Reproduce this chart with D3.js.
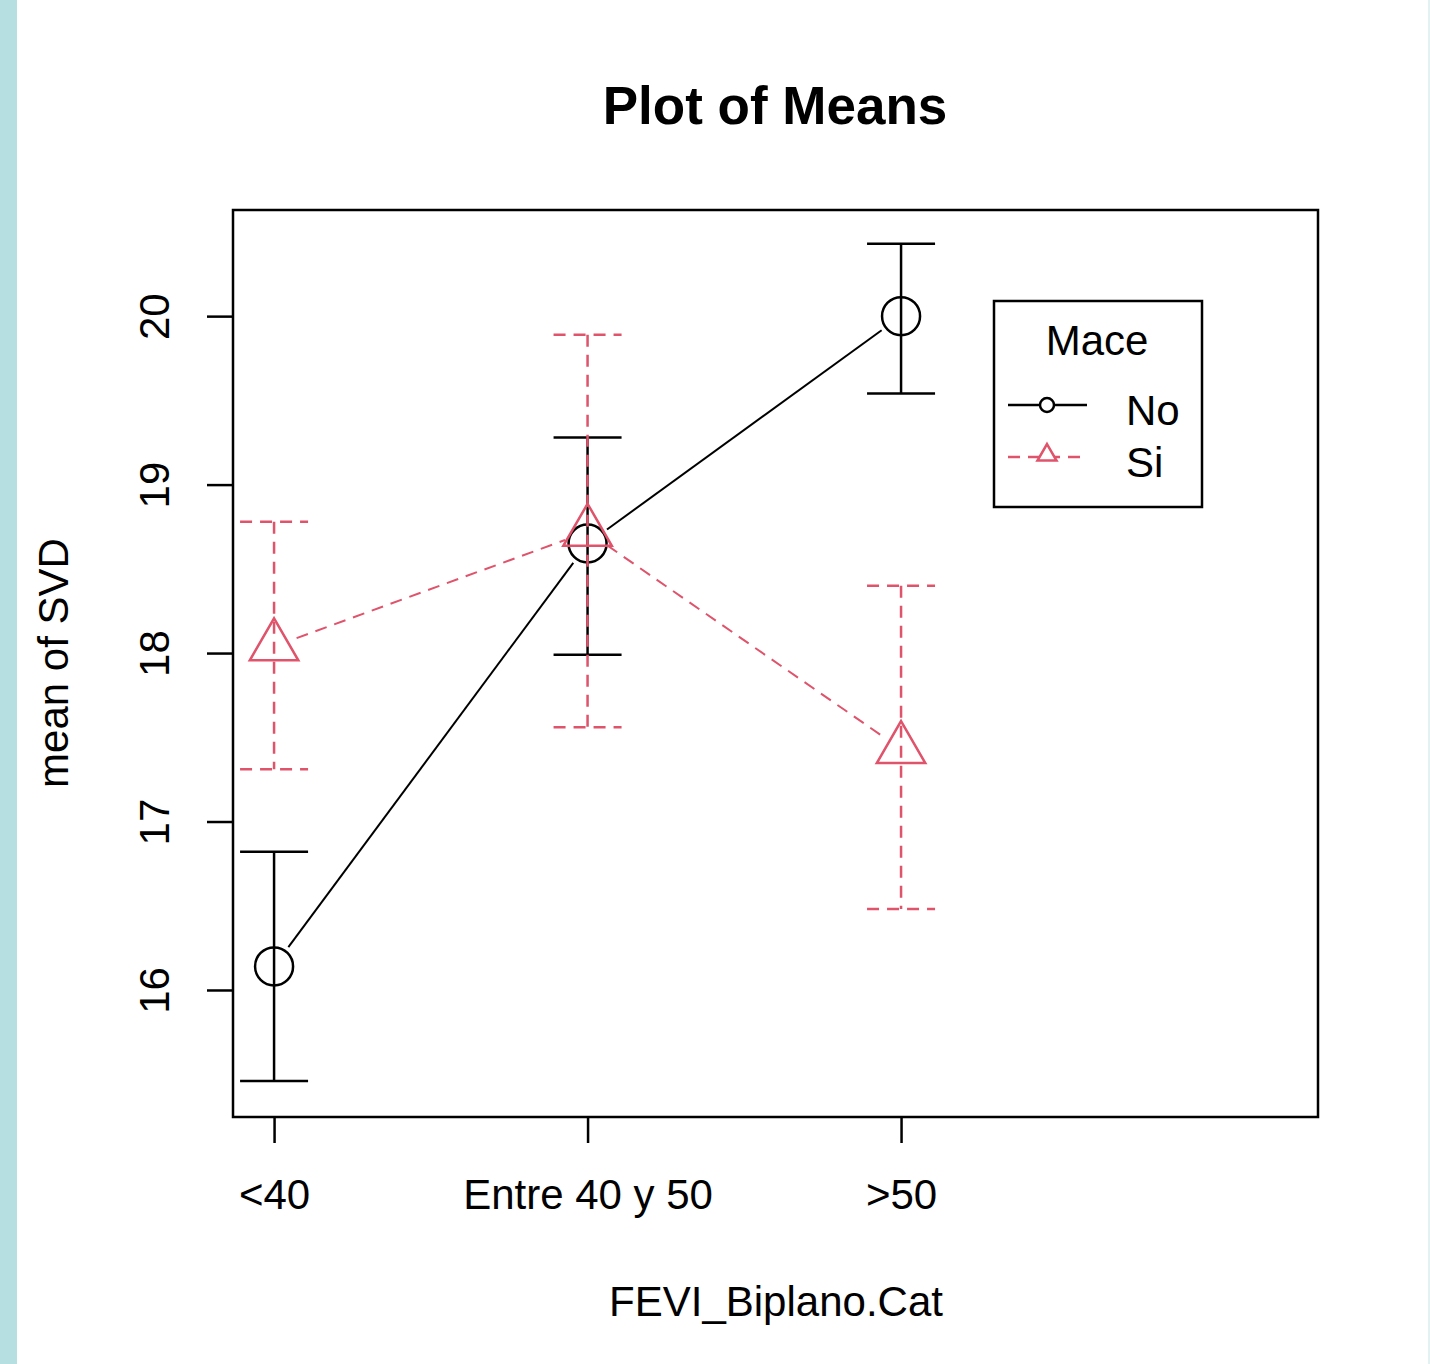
<!DOCTYPE html>
<html>
<head>
<meta charset="utf-8">
<script src="https://cdn.jsdelivr.net/npm/d3@7"></script>
<style>
  body { margin: 0; background: #fff; }
  #chart { width: 1430px; height: 1364px; }
  text { font-family: "Liberation Sans", Arial, sans-serif; fill: #000; }
</style>
</head>
<body>
<div id="chart"></div>
<script>
// categories and tick labels
var categories = ["<40", "Entre 40 y 50", ">50"];
var yTicks = [16, 17, 18, 19, 20];
var groups = ["No", "Si"];

// means and error bar limits
var meanNo = [16.14, 18.65, 20.00];
var upperNo = [16.82, 19.28, 20.43];
var lowerNo = [15.46, 17.99, 19.54];

var meanSi = [18.04, 18.72, 17.43];
var upperSi = [18.78, 19.89, 18.40];
var lowerSi = [17.31, 17.56, 16.48];

var W = 1430, H = 1364;
var box = { left: 233, right: 1318, top: 210, bottom: 1117 };

var svg = d3.select("#chart")
  .append("svg")
    .attr("width", W)
    .attr("height", H);

svg.append("rect").attr("width", W).attr("height", H).attr("fill", "#fff");
svg.append("rect").attr("x", 0).attr("y", 0).attr("width", 17).attr("height", H).attr("fill", "#b6dfe2");
svg.append("rect").attr("x", 1428).attr("y", 0).attr("width", 2).attr("height", H).attr("fill", "#e3f1f2");

var x = d3.scaleLinear()
    .domain([0.869, 4.33])
    .range([box.left, box.right]);

var y = d3.scaleLinear()
    .domain([15.246, 20.63])
    .range([box.bottom, box.top]);

var color = d3.scaleOrdinal().domain(groups).range(["#000000", "#DF536B"]);

// title
svg.append("text")
    .attr("x", 775).attr("y", 124)
    .attr("text-anchor", "middle")
    .style("font-size", "53px")
    .style("font-weight", "bold")
    .text("Plot of Means");

// axes
var xAxis = svg.append("g")
    .attr("transform", "translate(0," + box.bottom + ")")
    .call(d3.axisBottom(x)
      .tickValues([1, 2, 3])
      .tickFormat(function(d) { return categories[d - 1]; })
      .tickSize(26)
      .tickPadding(36));
xAxis.select(".domain").remove();
xAxis.selectAll("line").attr("stroke", "#000").attr("stroke-width", 2.5);
xAxis.selectAll("text")
    .attr("font-family", null).attr("font-size", null)
    .style("font-size", "42px")
    .attr("fill", "#000");

var yAxis = svg.append("g")
    .attr("transform", "translate(" + box.left + ",0)")
    .call(d3.axisLeft(y).tickValues(yTicks).tickSize(26).tickFormat(d3.format("d")));
yAxis.select(".domain").remove();
yAxis.selectAll("line").attr("stroke", "#000").attr("stroke-width", 2.5);
yAxis.selectAll("text")
    .attr("font-family", null).attr("font-size", null)
    .attr("x", 0)
    .attr("text-anchor", "middle")
    .attr("transform", "translate(-79,0) rotate(-90)")
    .attr("dy", "0.35em")
    .style("font-size", "42px")
    .attr("fill", "#000");

// axis titles
svg.append("text")
    .attr("x", 776).attr("y", 1316)
    .attr("text-anchor", "middle")
    .style("font-size", "42px")
    .text("FEVI_Biplano.Cat");

svg.append("text")
    .attr("transform", "translate(68,663) rotate(-90)")
    .attr("text-anchor", "middle")
    .style("font-size", "42px")
    .text("mean of SVD");

// plot box
svg.append("rect")
    .attr("x", box.left).attr("y", box.top)
    .attr("width", box.right - box.left).attr("height", box.bottom - box.top)
    .attr("fill", "none").attr("stroke", "#000").attr("stroke-width", 2.5);

function triPoints(cx, cy, r) {
  var xc = r * 0.866;
  return [[cx, cy - r], [cx + xc, cy + r / 2], [cx - xc, cy + r / 2]]
    .map(function(p) { return p.join(","); }).join(" ");
}

var series = [
  { name: "No", mean: meanNo, upper: upperNo, lower: lowerNo, dash: null, shape: "circle" },
  { name: "Si", mean: meanSi, upper: upperSi, lower: lowerSi, dash: "12,8", shape: "triangle" }
];

var gap = 24;

series.forEach(function(s) {
  var g = svg.append("g")
      .attr("stroke", color(s.name))
      .attr("fill", "none")
      .attr("stroke-width", 2.5);

  // error bars
  s.mean.forEach(function(m, i) {
    var cx = x(i + 1);
    g.append("line")
        .attr("x1", cx).attr("x2", cx)
        .attr("y1", y(s.upper[i])).attr("y2", y(s.lower[i]))
        .attr("stroke-dasharray", s.dash);
    [s.upper[i], s.lower[i]].forEach(function(v) {
      g.append("line")
          .attr("x1", cx - 34).attr("x2", cx + 34)
          .attr("y1", y(v)).attr("y2", y(v))
          .attr("stroke-dasharray", s.dash);
    });
  });

  // connecting lines with gaps around points (type = "b")
  for (var i = 0; i < s.mean.length - 1; i++) {
    var x1 = x(i + 1), y1 = y(s.mean[i]), x2 = x(i + 2), y2 = y(s.mean[i + 1]);
    var len = Math.hypot(x2 - x1, y2 - y1);
    var ux = (x2 - x1) / len, uy = (y2 - y1) / len;
    g.append("line")
        .attr("x1", x1 + ux * gap).attr("y1", y1 + uy * gap)
        .attr("x2", x2 - ux * gap).attr("y2", y2 - uy * gap)
        .attr("stroke-width", 2)
        .attr("stroke-dasharray", s.dash);
  }

  // points
  s.mean.forEach(function(m, i) {
    if (s.shape === "circle") {
      g.append("circle").attr("cx", x(i + 1)).attr("cy", y(m)).attr("r", 19);
    } else {
      g.append("polygon").attr("points", triPoints(x(i + 1), y(m), 28));
    }
  });
});

// legend
var lg = svg.append("g");
lg.append("rect")
    .attr("x", 994).attr("y", 301).attr("width", 208).attr("height", 206)
    .attr("fill", "#fff").attr("stroke", "#000").attr("stroke-width", 2.5);
lg.append("text")
    .attr("x", 1097).attr("y", 355)
    .attr("text-anchor", "middle")
    .style("font-size", "42px")
    .text("Mace");

series.forEach(function(s, i) {
  var ly = 405 + i * 52;
  lg.append("line")
      .attr("x1", 1008).attr("x2", 1087)
      .attr("y1", ly).attr("y2", ly)
      .attr("stroke", color(s.name)).attr("stroke-width", 2.5)
      .attr("stroke-dasharray", s.dash ? "12,8" : null);
  if (s.shape === "circle") {
    lg.append("circle").attr("cx", 1047).attr("cy", ly).attr("r", 7)
        .attr("fill", "#fff").attr("stroke", color(s.name)).attr("stroke-width", 2.5);
  } else {
    lg.append("polygon").attr("points", triPoints(1047, ly - 2, 11))
        .attr("fill", "#fff").attr("stroke", color(s.name)).attr("stroke-width", 2.5);
  }
  lg.append("text")
      .attr("x", 1126).attr("y", ly + 20)
      .style("font-size", "42px")
      .text(s.name);
});
</script>
</body>
</html>
